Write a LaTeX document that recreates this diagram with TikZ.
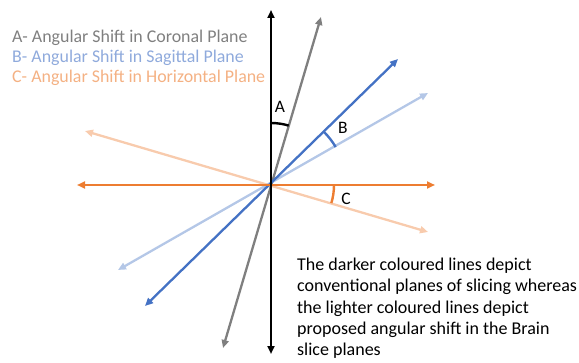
\documentclass[tikz,border=0pt]{standalone}
\usepackage{fontspec}
\setmainfont{Carlito}
\usetikzlibrary{arrows.meta}
\definecolor{cgray}{HTML}{7F7F7F}
\definecolor{cblue}{HTML}{4472C4}
\definecolor{clblue}{HTML}{B4C7E7}
\definecolor{clbluetext}{HTML}{8FAADC}
\definecolor{corange}{HTML}{ED7D31}
\definecolor{clorange}{HTML}{F8CBAD}
\definecolor{clorangetext}{HTML}{F4B183}
\tikzset{
  axisline/.style={line width=2.3pt, {Triangle[length=8pt,width=7pt]}-{Triangle[length=8pt,width=7pt]}},
  anglearc/.style={line width=2.4pt},
  anglelabel/.style={font=\fontsize{17.5}{20}\selectfont, inner sep=0pt},
  legend/.style={font=\fontsize{17.9}{20}\selectfont, anchor=west, inner sep=0pt},
}
\begin{document}
\begin{tikzpicture}[x=1pt,y=1pt]
\useasboundingbox (0,0) rectangle (579,362);
\coordinate (O) at (271,177);
\coordinate (kT) at (271,352); \coordinate (kB) at (271,8);
\coordinate (gT) at (321,345); \coordinate (gB) at (223,14);
\coordinate (bT) at (398,303); \coordinate (bB) at (145,56);
\coordinate (lbT) at (428,269); \coordinate (lbB) at (118,92);
\coordinate (oL) at (77,177); \coordinate (oR) at (435,177);
\coordinate (loL) at (85,231); \coordinate (loR) at (428,130);

\draw[axisline, clorange] (loL) -- (loR);
\draw[axisline, clblue] (lbB) -- (lbT);
\draw[axisline, cgray] (gB) -- (gT);
\draw[axisline, cblue] (bB) -- (bT);
\draw[axisline, corange] (oL) -- (oR);
\draw[axisline, black] (kB) -- (kT);

\draw[anglearc, black] ([shift={(90:62)}]O) arc[start angle=90, end angle=73.4, radius=62];
\draw[anglearc, cblue] ([shift={(44.8:75)}]O) arc[start angle=44.8, end angle=30.4, radius=75];
\draw[anglearc, corange] ([shift={(0:63)}]O) arc[start angle=0, end angle=-16.7, radius=63];

\node[anglelabel] (la) at (280,255) {A};
\node[anglelabel] (lb) at (343,234) {B};
\node[anglelabel] (lc) at (346,163) {C};

\node[legend, text=cgray] (t1) at (12,324) {A- Angular Shift in Coronal Plane};
\node[legend, text=clbluetext] (t2) at (12,304) {B- Angular Shift in Sagittal Plane};
\node[legend, text=clorangetext] (t3) at (12,284) {C- Angular Shift in Horizontal Plane};

\node[anchor=north west, align=left, inner sep=0pt, font=\fontsize{18}{21.2}\selectfont] (note) at (297,104)
{The darker coloured lines depict\\conventional planes of slicing whereas\\the lighter coloured lines depict\\proposed angular shift in the Brain\\slice planes};
\end{tikzpicture}
\end{document}
